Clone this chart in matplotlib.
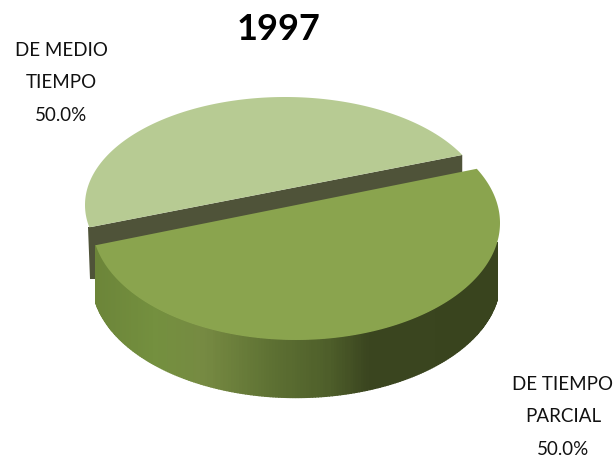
import numpy as np
import matplotlib
matplotlib.use("Agg")
import matplotlib.pyplot as plt
from matplotlib.colors import LinearSegmentedColormap

title = "1997"
categories = ["DE MEDIO\nTIEMPO", "DE TIEMPO\nPARCIAL"]
values = [50.0, 50.0]
face_colors = ["#B7CB93", "#8AA44E"]

W, H = 614, 462
plt.rcParams["font.family"] = ["Lato", "DejaVu Sans"]
fig = plt.figure(figsize=(W / 100, H / 100), dpi=100)
ax = fig.add_axes([0, 0, 1, 1])
ax.set_xlim(0, W)
ax.set_ylim(H, 0)
ax.axis("off")

# slice angles come from the values; the back slice looks narrower in perspective
fr = np.array(values) / np.sum(values)
persp = np.array([0.913, 1.087])
start = 27.6
spans = fr * 360 * persp
bounds = start + np.r_[0, np.cumsum(spans)]


def ell(c, a, b, t):
    t = np.radians(t)
    return c[0] + a * np.cos(t), c[1] - b * np.sin(t)


# upper slice
cu, au, bu = (285, 205), 200, 108
tu = np.linspace(bounds[0], bounds[1], 300)
xu, yu = ell(cu, au, bu, tu)

# lower slice
cl, al, bl = (296, 223), 204, 117
tl = np.linspace(bounds[1] - 1, bounds[2], 250)
xl, yl = ell(cl, al, bl, tl)
depth = 57.5

# dark cut wall and back edge of the upper slice
wall_color = "#4F5339"
ax.fill([xu[-1], xu[0], xu[0], xu[-1]],
        [yu[-1], yu[0], yu[0] + 18, yu[-1] + 22],
        color=wall_color, lw=0, zorder=2)
ax.fill([xu[-1] - 1, xu[-1] + 8, xu[-1] + 8, xu[-1] + 1],
        [yu[-1], yu[-1], yu[-1] + 52, yu[-1] + 52],
        color=wall_color, lw=0, zorder=1)

# upper face
ax.fill(xu, yu, color=face_colors[0], lw=0, zorder=3)

# lower slice rim, shaded left to right
cmap = LinearSegmentedColormap.from_list("rim", [
    (0.00, "#6C8539"), (0.15, "#74903F"), (0.27, "#768A42"), (0.45, "#5C6F32"),
    (0.58, "#4E5E2A"), (0.68, "#3A451F"), (1.00, "#39441E")])
x0, x1 = xl.min(), xl.max()
for i in range(len(xl) - 1):
    if tl[i] > 350:
        continue
    c = cmap((0.5 * (xl[i] + xl[i + 1]) - x0) / (x1 - x0))
    ax.fill([xl[i], xl[i + 1], xl[i + 1], xl[i]],
            [yl[i], yl[i + 1], yl[i + 1] + depth, yl[i] + depth],
            facecolor=c, edgecolor=c, lw=1.0, zorder=4)

# lower face
ax.fill(xl, yl, color=face_colors[1], lw=0, zorder=5)

ax.text(279, 29, title, fontsize=26, fontweight="bold", ha="center", va="center",
        color="black")
ax.text(61, 83, f"{categories[0]}\n{values[0]:.1f}%", fontsize=13.5, ha="center", va="center",
        linespacing=2.12, color="#111111")
ax.text(563, 417, f"{categories[1]}\n{values[1]:.1f}%", fontsize=13.5, ha="center", va="center",
        linespacing=2.12, color="#111111")

fig.savefig("out.png", dpi=100)
